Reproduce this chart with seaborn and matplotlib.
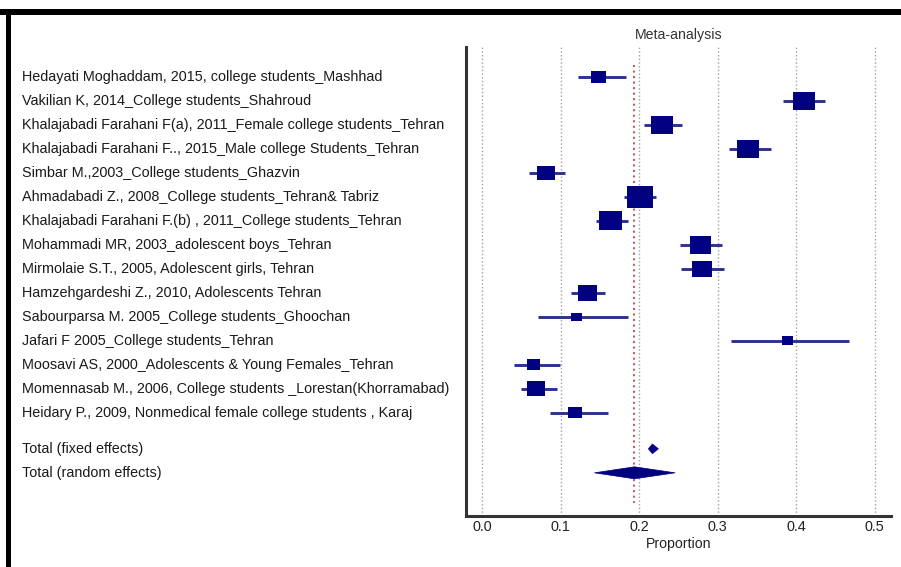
import numpy as np
import pandas as pd
import seaborn as sns
import matplotlib.pyplot as plt
import matplotlib.transforms as mtransforms
from matplotlib.path import Path
from matplotlib.patches import Rectangle

# study data
studies = [
    "Hedayati Moghaddam, 2015, college students_Mashhad",
    "Vakilian K, 2014_College students_Shahroud",
    "Khalajabadi Farahani F(a), 2011_Female college students_Tehran",
    "Khalajabadi Farahani F.., 2015_Male college Students_Tehran",
    "Simbar M.,2003_College students_Ghazvin",
    "Ahmadabadi Z., 2008_College students_Tehran& Tabriz",
    "Khalajabadi Farahani F.(b) , 2011_College students_Tehran",
    "Mohammadi MR, 2003_adolescent boys_Tehran",
    "Mirmolaie S.T., 2005, Adolescent girls, Tehran",
    "Hamzehgardeshi Z., 2010, Adolescents Tehran",
    "Sabourparsa M. 2005_College students_Ghoochan",
    "Jafari F 2005_College students_Tehran",
    "Moosavi AS, 2000_Adolescents & Young Females_Tehran",
    "Momennasab M., 2006, College students _Lorestan(Khorramabad)",
    "Heidary P., 2009, Nonmedical female college students , Karaj",
]
proportion = [0.148, 0.410, 0.229, 0.339, 0.081, 0.201, 0.163, 0.278, 0.280,
              0.134, 0.120, 0.389, 0.065, 0.069, 0.118]
ci_low = [0.122, 0.383, 0.206, 0.314, 0.060, 0.181, 0.145, 0.252, 0.253,
          0.113, 0.071, 0.317, 0.041, 0.049, 0.086]
ci_high = [0.183, 0.437, 0.254, 0.368, 0.105, 0.222, 0.186, 0.305, 0.308,
           0.157, 0.186, 0.468, 0.099, 0.095, 0.160]
weight = [4.05, 9.07, 9.07, 8.83, 5.87, 13.36, 9.65, 8.51, 7.50, 7.27,
          1.99, 2.27, 3.17, 6.07, 3.32]

pooled_labels = ["Total (fixed effects)", "Total (random effects)"]
pooled_est = [0.2168, 0.194]
pooled_low = [0.2117, 0.1429]
pooled_high = [0.2245, 0.2458]

df = pd.DataFrame({"study": studies, "proportion": proportion,
                   "low": ci_low, "high": ci_high, "weight": weight})
df["row"] = np.arange(1, len(df) + 1)
pooled_rows = [len(df) + 1.5, len(df) + 2.5]

sns.set_style("white")
plt.rcParams["font.family"] = ["Liberation Sans", "DejaVu Sans"]

W, H = 901, 567
fig = plt.figure(figsize=(W / 100, H / 100), dpi=100)
ax = fig.add_axes([466 / W, 1 - 516 / H, (891 - 466) / W, (516 - 47) / H])

# grid lines
for gx in np.arange(0, 0.51, 0.1):
    ax.axvline(gx, color="#a0a0a0", lw=1, ls=":", zorder=0)

# pooled estimate line
ax.plot([pooled_est[1], pooled_est[1]], [0.5, 18.75], color="#c0605c",
        lw=1.5, ls=":", zorder=1)

# confidence intervals
ax.hlines(df["row"], df["low"], df["high"], color="#2e3192", lw=2.1, zorder=2)

# weighted squares (slightly wider than tall, like the original)
box = Path([(-1, -0.84), (1, -0.84), (1, 0.84), (-1, 0.84), (-1, -0.84)],
           [Path.MOVETO, Path.LINETO, Path.LINETO, Path.LINETO, Path.CLOSEPOLY])
sns.scatterplot(data=df, x="proportion", y="row", size="weight",
                sizes=(0, 2766), size_norm=(0, 100), marker=box,
                color="#000080", edgecolor="none", linewidth=0,
                legend=False, ax=ax, zorder=3)

# pooled diamonds
for y, lo, est, hi, h in zip(pooled_rows, pooled_low, pooled_est, pooled_high, [0.2, 0.25]):
    ax.fill([lo, est, hi, est], [y, y - h, y, y + h], color="#000080", lw=0.5,
            edgecolor="#000080", zorder=3)

ax.set_xlim(-0.0208, 0.521)
ax.set_ylim(19.3, -0.25)
ax.set_yticks([])
ax.set_xticks(np.arange(0, 0.51, 0.1))
ax.set_xticks(np.arange(0.05, 0.5, 0.1), minor=True)
ax.set_xticklabels([f"{v:.1f}" for v in np.arange(0, 0.51, 0.1)])
ax.tick_params(axis="x", which="major", direction="in", length=7.5, width=1.5,
               color="#333333", labelsize=10.4, labelcolor="#222222", pad=3)
ax.tick_params(axis="x", which="minor", direction="in", length=4.5, width=1.5,
               color="#333333")
ax.set_xlabel("Proportion", fontsize=10.2, color="#222222", labelpad=2)
ax.set_ylabel("")
ax.set_title("Meta-analysis", fontsize=10.2, color="#333333", pad=6)

for side in ["top", "right"]:
    ax.spines[side].set_visible(False)
for side in ["left", "bottom"]:
    ax.spines[side].set_linewidth(2.2)
    ax.spines[side].set_color("#333333")

# row labels on the left
trans = mtransforms.blended_transform_factory(fig.transFigure, ax.transData)
for y, name in zip(df["row"], df["study"]):
    ax.text(22 / W, y, name, transform=trans, ha="left", va="center",
            fontsize=10.4, color="#1a1a1a", clip_on=False)
for y, name in zip(pooled_rows, pooled_labels):
    ax.text(22 / W, y, name, transform=trans, ha="left", va="center",
            fontsize=10.4, color="#1a1a1a", clip_on=False)

# black frame on top and left
fig.add_artist(Rectangle((0, 1 - 15 / H), 1, 6 / H, transform=fig.transFigure,
                         color="black", lw=0))
fig.add_artist(Rectangle((6 / W, 0), 5 / W, 1 - 9 / H, transform=fig.transFigure,
                         color="black", lw=0))

fig.savefig("out.png", dpi=100)
